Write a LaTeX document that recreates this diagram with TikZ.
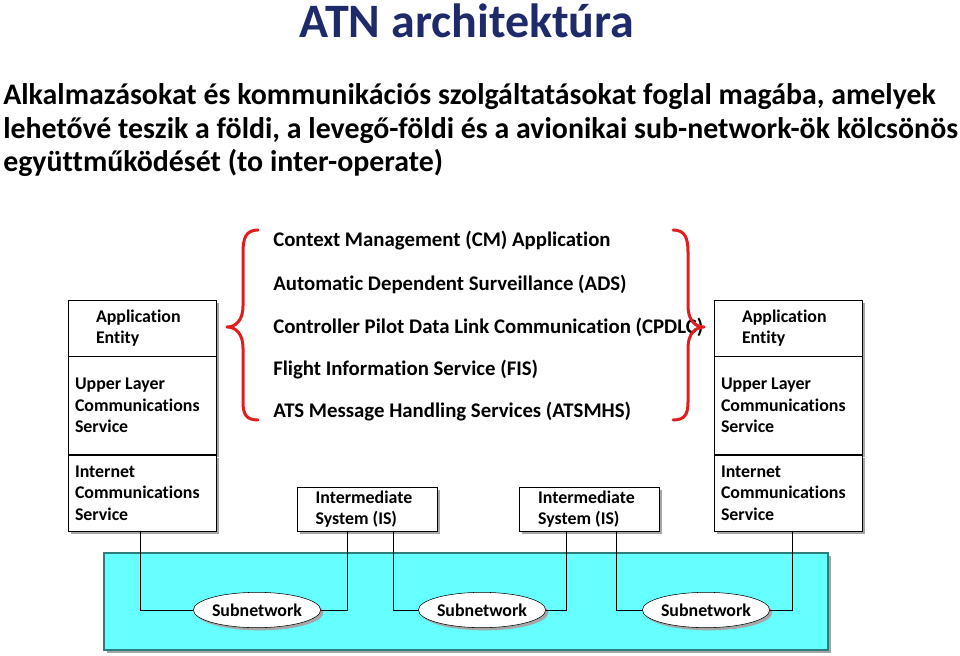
\documentclass[tikz,border=0pt]{standalone}
\usepackage{fontspec}
\setmainfont{Carlito}[Ligatures={NoCommon}]
\usetikzlibrary{positioning,shapes.geometric,shadows}
\definecolor{atnblue}{HTML}{1F2A6B}
\definecolor{bracered}{HTML}{E01E1E}
\definecolor{netcyan}{HTML}{66FFFF}
\definecolor{netedge}{HTML}{2E7D7D}

\begin{document}
\begin{tikzpicture}[%
    x=0.75pt, y=-0.75pt,
    font=\bfseries\fontsize{13.4}{16}\selectfont,
    boxshadow/.style={drop shadow={shadow xshift=2pt, shadow yshift=-2pt, fill=black!35, opacity=1}},
    stackbox/.style={draw, fill=white, boxshadow, minimum width=111pt, text width=100.5pt,
      align=flush left, inner xsep=5.25pt, inner ysep=0pt},
    isbox/.style={draw, fill=white, boxshadow, minimum width=105pt, minimum height=33pt,
      text width=77pt, align=flush left, inner ysep=0pt},
    subnet/.style={ellipse, draw, fill=white, boxshadow, minimum width=84pt, minimum height=26.5pt, inner sep=0pt},
    service/.style={anchor=west, inner sep=0pt, font=\bfseries\fontsize{15.6}{18}\selectfont},
    intro/.style={anchor=base west, inner sep=0pt, font=\bfseries\fontsize{22.4}{26}\selectfont},
    brace/.style={draw=bracered, line width=2.25pt, line cap=round, line join=round},
    wire/.style={draw, line width=0.6pt}
  ]
    \useasboundingbox (0,0) rectangle (960,656);

    % title and intro text
    \node[anchor=base, inner sep=0pt, text=atnblue, font=\bfseries\fontsize{36}{42}\selectfont] (title) at (467,38) {ATN architektúra};
    \node[intro] (line1) at (3,105) {Alkalmazásokat és kommunikációs szolgáltatásokat foglal magába, amelyek};
    \node[intro] (line2) at (3,139) {lehetővé teszik a földi, a levegő-földi és a avionikai sub-network-ök kölcsönös};
    \node[intro] (line3) at (3,172) {együttműködését (to inter-operate)};

    % left end system
    \node[stackbox, minimum height=42pt, text width=69pt] (lae) at (142,328) {Application\\Entity};
    \node[stackbox, minimum height=73.5pt, below=0pt of lae] (lul) {Upper Layer\\Communications\\Service};
    \node[stackbox, minimum height=57pt, below=0pt of lul] (lic) {Internet\\Communications\\Service};

    % right end system
    \node[stackbox, minimum height=42pt, text width=69pt] (rae) at (788,328) {Application\\Entity};
    \node[stackbox, minimum height=73.5pt, below=0pt of rae] (rul) {Upper Layer\\Communications\\Service};
    \node[stackbox, minimum height=57pt, below=0pt of rul] (ric) {Internet\\Communications\\Service};

    % applications
    \node[service] (cm) at (273,241) {Context Management (CM) Application};
    \node[service] (ads) at (273,284) {Automatic Dependent Surveillance (ADS)};
    \node[service] (cpdlc) at (273,327) {Controller Pilot Data Link Communication (CPDLC)};
    \node[service] (fis) at (273,370) {Flight Information Service (FIS)};
    \node[service] (atsmhs) at (273,412) {ATS Message Handling Services (ATSMHS)};

    \draw[brace] (258,230) .. controls (246,230) and (243,238) .. (243,252) -- (243,306)
      .. controls (243,320) and (236,327) .. (227,327)
      .. controls (236,327) and (243,334) .. (243,348) -- (243,402)
      .. controls (243,414) and (246,420) .. (258,420);
    \draw[brace] (673,230) .. controls (685,230) and (688,238) .. (688,252) -- (688,306)
      .. controls (688,320) and (695,327) .. (704,327)
      .. controls (695,327) and (688,334) .. (688,348) -- (688,402)
      .. controls (688,414) and (685,420) .. (673,420);

    % intermediate systems
    \node[isbox] (is1) at (367,509) {Intermediate\\System (IS)};
    \node[isbox] (is2) at (589.5,509) {Intermediate\\System (IS)};

    % subnetworks
    \node[draw=netedge, fill=netcyan, boxshadow, line width=1pt, minimum width=543pt, minimum height=72.75pt] (net) at (466,601.5) {};
    \node[subnet] (sn1) at (257,610) {Subnetwork};
    \node[subnet] (sn2) at (482,610) {Subnetwork};
    \node[subnet] (sn3) at (706,610) {Subnetwork};

    \draw[wire] ([xshift=-1.5pt]lic.south) |- (sn1.west);
    \draw[wire] (sn1.east) -| ([xshift=-15pt]is1.south);
    \draw[wire] ([xshift=19.5pt]is1.south) |- (sn2.west);
    \draw[wire] (sn2.east) -| ([xshift=-17.6pt]is2.south);
    \draw[wire] ([xshift=19.9pt]is2.south) |- (sn3.west);
    \draw[wire] (sn3.east) -| ([xshift=3pt]ric.south);
\end{tikzpicture}
\end{document}
